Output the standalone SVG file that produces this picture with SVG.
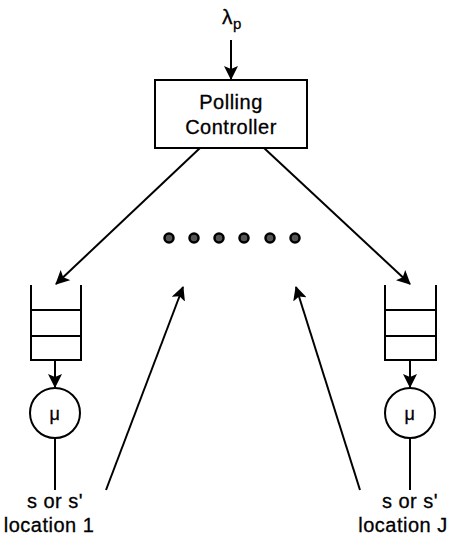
<svg xmlns="http://www.w3.org/2000/svg" width="449" height="538" viewBox="0 0 449 538">
<style>
.ln{stroke:#000;stroke-width:2;fill:none}
.t{font-family:"Liberation Sans",Arial,sans-serif;font-size:20px;letter-spacing:0.5px;fill:#000;stroke:#000;stroke-width:0.3;text-anchor:middle}
.dot{fill:#555;stroke:#000;stroke-width:2.5}
</style>
<defs>
<marker id="ah" viewBox="0 0 14 14" refX="13" refY="7" markerWidth="14" markerHeight="14" markerUnits="userSpaceOnUse" orient="auto">
<path d="M0,0 L14,7 L0,14 L3,7 Z" fill="#000"/>
</marker>
</defs>
<rect width="449" height="538" fill="#fff"/>
<g id="lambda">
<text class="t" x="232" y="24" style="font-size:21px">λ<tspan dy="5" style="font-size:15px">p</tspan></text>
</g>
<g id="controller">
<rect x="155" y="80" width="152" height="68" class="ln"/>
<text class="t" x="231" y="109">Polling</text>
<text class="t" x="231" y="134">Controller</text>
</g>
<g id="queue1">
<path class="ln" d="M31,285 V360 H81 V285 M31,310 H81 M31,336 H81"/>
</g>
<g id="server1">
<circle cx="55" cy="413" r="25" class="ln"/>
<text class="t" x="55" y="420" style="font-size:18px">μ</text>
</g>
<g id="queueJ">
<path class="ln" d="M385,285 V360 H436 V285 M385,310 H436 M385,336 H436"/>
</g>
<g id="serverJ">
<circle cx="410" cy="413" r="25" class="ln"/>
<text class="t" x="410" y="420" style="font-size:18px">μ</text>
</g>
<g id="label1">
<text class="t" x="55" y="508">s or s'</text>
<text class="t" x="49" y="532">location 1</text>
</g>
<g id="labelJ">
<text class="t" x="410" y="508">s or s'</text>
<text class="t" x="403" y="532">location J</text>
</g>
<g id="dots">
<circle class="dot" cx="169" cy="238" r="4.5"/>
<circle class="dot" cx="194" cy="238" r="4.5"/>
<circle class="dot" cx="219" cy="238" r="4.5"/>
<circle class="dot" cx="244" cy="238" r="4.5"/>
<circle class="dot" cx="270" cy="238" r="4.5"/>
<circle class="dot" cx="295" cy="238" r="4.5"/>
</g>
<g id="connectors">
<line class="ln" x1="231" y1="40" x2="231" y2="79" marker-end="url(#ah)"/>
<line class="ln" x1="200" y1="148" x2="56" y2="284" marker-end="url(#ah)"/>
<line class="ln" x1="264" y1="148" x2="410" y2="284" marker-end="url(#ah)"/>
<line class="ln" x1="55" y1="360" x2="55" y2="387" marker-end="url(#ah)"/>
<line class="ln" x1="410" y1="360" x2="410" y2="387" marker-end="url(#ah)"/>
<line class="ln" x1="55" y1="438" x2="55" y2="490"/>
<line class="ln" x1="410" y1="438" x2="410" y2="490"/>
<line class="ln" x1="106" y1="490" x2="183" y2="287" marker-end="url(#ah)"/>
<line class="ln" x1="360" y1="490" x2="296" y2="287" marker-end="url(#ah)"/>
</g>
</svg>
